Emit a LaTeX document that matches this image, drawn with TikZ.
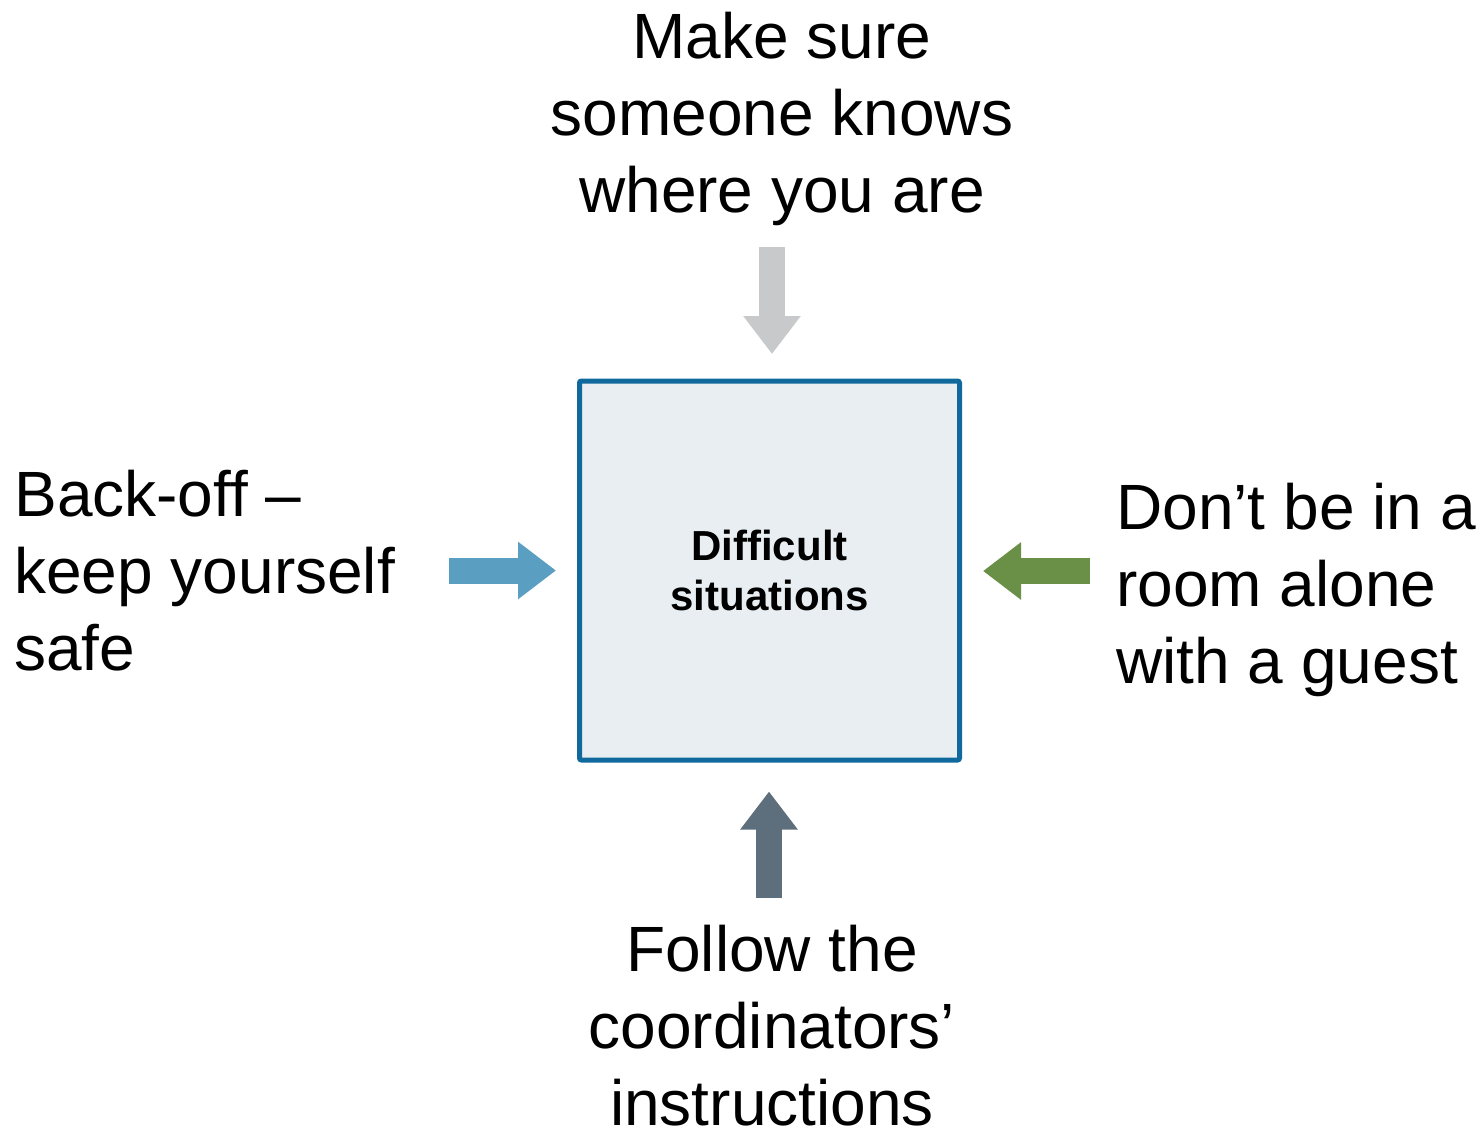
\documentclass[tikz,border=0pt]{standalone}
\usepackage{fontspec}
\setmainfont{Liberation Sans}
\usetikzlibrary{arrows.meta}

\definecolor{boxline}{HTML}{10699D}
\definecolor{boxfill}{HTML}{E8EEF1}
\definecolor{arrowgray}{HTML}{C8C9CA}
\definecolor{arrowblue}{HTML}{5A9EC2}
\definecolor{arrowgreen}{HTML}{6A8F47}
\definecolor{arrowslate}{HTML}{5D6F7D}

\tikzset{
  tip/.style={font=\fontsize{32}{38.5}\selectfont, inner sep=0pt},
  blockarrow/.style={line width=13pt, -{Triangle[width=27.5pt, length=19pt]}},
}

\begin{document}
\begin{tikzpicture}[x=0.5pt, y=-0.5pt]
    \useasboundingbox (0,0) rectangle (1479,1130);

    % centre box
    \node [draw=boxline, fill=boxfill, line width=2.5pt, rounded corners=1pt,
           minimum width=190pt, minimum height=189.5pt, outer sep=0pt,
           align=center, font=\fontsize{21}{25}\selectfont\bfseries]
          (box) at (769.5,570.5) {Difficult\\situations};

    % the four tips (anchored at the baseline of their last line)
    \node [tip, align=center, anchor=base] (top) at (782,212)
          {Make sure\\someone knows\\where you are};
    \node [tip, align=left, anchor=base west] (left) at (14,670)
          {Back-off –\\keep yourself\\safe};
    \node [tip, align=left, anchor=base west] (right) at (1116,683)
          {Don’t be in a\\room alone\\with a guest};
    \node [tip, align=center, anchor=base] (bottom) at (772,1125)
          {Follow the\\coordinators’\\instructions};

    % arrows
    \coordinate (topstart) at (772,247);
    \coordinate (leftstart) at (449,570.5);
    \coordinate (rightstart) at (1090,571);
    \coordinate (bottomstart) at (769,898);
    \draw [blockarrow, arrowgray, shorten >=13.5pt] (topstart) -- (topstart |- box.north);
    \draw [blockarrow, arrowblue, shorten >=11.75pt] (leftstart) -- (leftstart -| box.west);
    \draw [blockarrow, arrowgreen, shorten >=11.75pt] (rightstart) -- (rightstart -| box.east);
    \draw [blockarrow, arrowslate, shorten >=15.75pt] (bottomstart) -- (bottomstart |- box.south);
\end{tikzpicture}
\end{document}
